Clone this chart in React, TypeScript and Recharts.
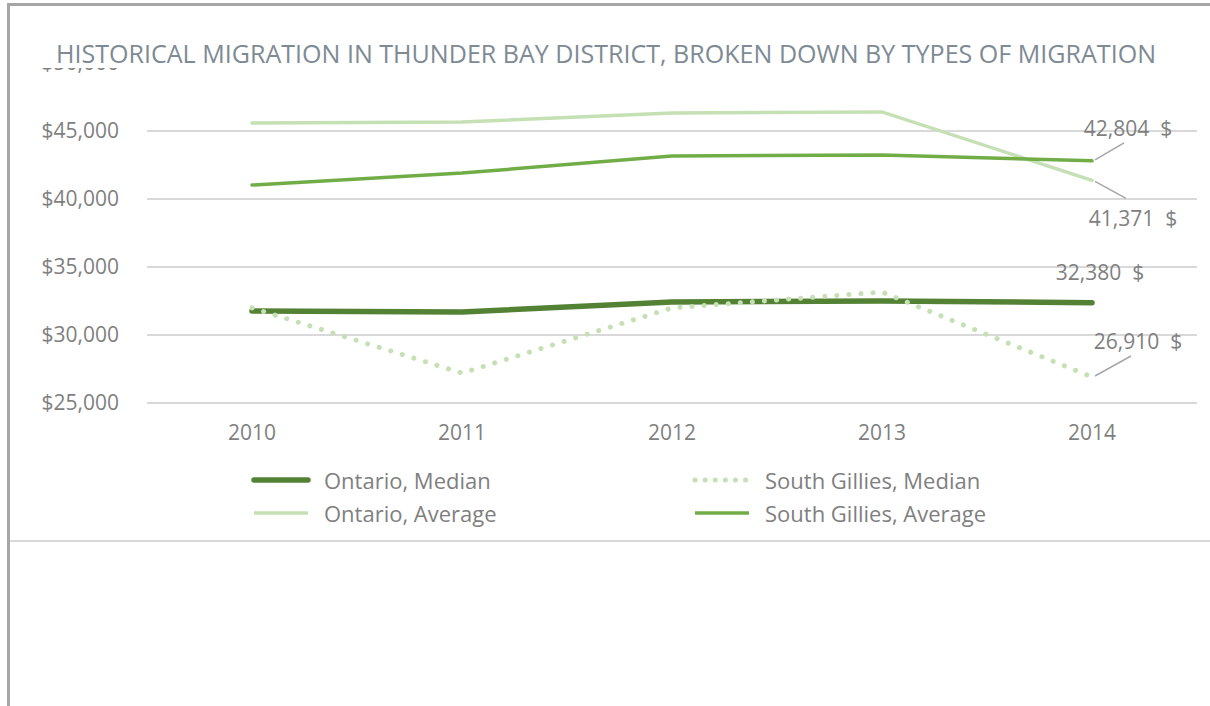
import {CartesianGrid, LabelList, Line, LineChart, XAxis, YAxis} from "recharts";

const years = ["2010", "2011", "2012", "2013", "2014"];
const ontarioMedian = [31760, 31690, 32430, 32500, 32380];
const gilliesMedian = [31990, 27200, 31990, 33160, 26910];
const ontarioAverage = [45590, 45660, 46320, 46400, 41371];
const gilliesAverage = [41030, 41910, 43160, 43230, 42804];
const yTicks = [25000, 30000, 35000, 40000, 45000, 50000];

const title =
  "HISTORICAL MIGRATION IN THUNDER BAY DISTRICT, BROKEN DOWN BY TYPES OF MIGRATION";

const FONT = "'Open Sans', sans-serif";
const TEXT = "#7f7f7f";

const data = years.map((year, i) => ({
  year,
  ontMed: ontarioMedian[i],
  sgMed: gilliesMedian[i],
  ontAvg: ontarioAverage[i],
  sgAvg: gilliesAverage[i],
}));

type Series = {
  key: string;
  name: string;
  color: string;
  width: number;
  dash?: string;
  // where the end label sits, relative to the last point
  label: {dx: number; dy: number; leader?: [number, number]};
};

const series: Series[] = [
  {
    key: "ontMed",
    name: "Ontario, Median",
    color: "#548235",
    width: 5.5,
    label: {dx: 8, dy: -31},
  },
  {
    key: "sgMed",
    name: "South Gillies, Median",
    color: "#c5e0b4",
    width: 5,
    dash: "0.1 12",
    label: {dx: 46, dy: -36, leader: [39, -21]},
  },
  {
    key: "ontAvg",
    name: "Ontario, Average",
    color: "#c5e0b4",
    width: 3.5,
    label: {dx: 41, dy: 38, leader: [34, 18]},
  },
  {
    key: "sgAvg",
    name: "South Gillies, Average",
    color: "#70ad47",
    width: 3.5,
    label: {dx: 36, dy: -33, leader: [32, -18]},
  },
];

const money = (v: number) => "$" + v.toLocaleString("en-US");

function endLabel(s: Series) {
  return (props: any) => {
    const {x, y, value, index} = props;
    if (index !== years.length - 1) return null;
    const {dx, dy, leader} = s.label;
    return (
      <g>
        {leader && (
          <line
            x1={x + 3}
            y1={y + Math.sign(leader[1])}
            x2={x + leader[0]}
            y2={y + leader[1]}
            stroke="#a6a6a6"
            strokeWidth={1.5}
          />
        )}
        <text
          x={x + dx}
          y={y + dy}
          textAnchor="middle"
          dominantBaseline="central"
          fill={TEXT}
          fontSize={21}
          fontFamily={FONT}
        >
          {value.toLocaleString("en-US") + "\u00a0\u00a0$"}
        </text>
      </g>
    );
  };
}

function LegendIcon({s}: {s: Series}) {
  return (
    <svg width={62} height={10} style={{marginRight: 12}}>
      <line
        x1={4}
        y1={5}
        x2={58}
        y2={5}
        stroke={s.color}
        strokeWidth={s.dash ? 5 : s.width}
        strokeLinecap={s.dash || s.key === "ontMed" ? "round" : "butt"}
        strokeDasharray={s.dash ? "0.1 10" : undefined}
      />
    </svg>
  );
}

export default function App() {
  return (
    <div
      style={{
        position: "absolute",
        left: 0,
        top: 0,
        width: 1210,
        height: 706,
        background: "#fff",
        overflow: "hidden",
        fontFamily: FONT,
      }}
    >
      <div style={{position: "absolute", left: 0, top: 0}}>
        <LineChart
          width={1210}
          height={460}
          data={data}
          margin={{top: 63, right: 13, bottom: 17, left: 0}}
        >
          <CartesianGrid vertical={false} stroke="#d9d9d9" strokeWidth={2} />
          <XAxis
            dataKey="year"
            axisLine={false}
            tickLine={false}
            height={40}
            tickMargin={16}
            padding={{left: 105, right: 105}}
            tick={{fill: TEXT, fontSize: 21, fontFamily: FONT}}
          />
          <YAxis
            domain={[25000, 50000]}
            ticks={yTicks}
            width={147}
            axisLine={false}
            tickLine={false}
            tickMargin={22}
            tickFormatter={money}
            tick={{fill: TEXT, fontSize: 21, fontFamily: FONT}}
          />
          {series.map((s) => (
            <Line
              key={s.key}
              dataKey={s.key}
              name={s.name}
              stroke={s.color}
              strokeWidth={s.width}
              strokeDasharray={s.dash}
              strokeLinecap="round"
              dot={false}
              activeDot={false}
              type="linear"
              isAnimationActive={false}
            >
              <LabelList dataKey={s.key} content={endLabel(s)} />
            </Line>
          ))}
        </LineChart>
      </div>

      {/* title sits over the top tick label, like in the original */}
      <svg
        width={1210}
        height={70}
        style={{position: "absolute", left: 0, top: 0}}
      >
        <rect x={10} y={6} width={1200} height={62} fill="#fff" />
        <text
          x={56}
          y={63}
          fontSize={25}
          fontFamily={FONT}
          fill="#7e8a94"
          textLength={1100}
          lengthAdjust="spacingAndGlyphs"
        >
          {title}
        </text>
      </svg>

      <div
        style={{
          position: "absolute",
          left: 250,
          top: 468,
          display: "grid",
          gridTemplateColumns: "441px 360px",
          rowGap: 9,
          color: TEXT,
          fontSize: 22,
          lineHeight: "24px",
        }}
      >
        {series.map((s) => (
          <div key={s.key} style={{display: "flex", alignItems: "center"}}>
            <LegendIcon s={s} />
            <span>{s.name}</span>
          </div>
        ))}
      </div>

      {/* frame */}
      <div
        style={{
          position: "absolute",
          left: 7,
          top: 3,
          width: 1210,
          height: 3,
          background: "#a6a6a6",
        }}
      />
      <div
        style={{
          position: "absolute",
          left: 7,
          top: 3,
          width: 3,
          height: 710,
          background: "#a6a6a6",
        }}
      />
      <div
        style={{
          position: "absolute",
          left: 10,
          top: 540,
          width: 1200,
          height: 2,
          background: "#d9d9d9",
        }}
      />
    </div>
  );
}
